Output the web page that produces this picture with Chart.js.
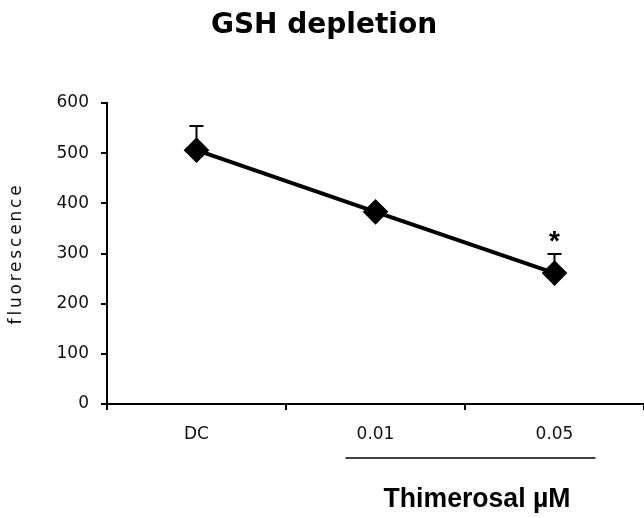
<!DOCTYPE html>
<html>
<head>
<meta charset="utf-8">
<title>GSH depletion</title>
<script src="https://cdn.jsdelivr.net/npm/chart.js@4.4.0/dist/chart.umd.min.js"></script>
<style>
    html, body { margin: 0; padding: 0; background: #fff; }
    #wrap { width: 644px; height: 518px; position: relative; }
</style>
</head>
<body>
<div id="wrap"><canvas id="chart"></canvas></div>
<script>
// ---- data ----
const categories = ['DC', '0.01', '0.05'];
const fluorescence = [506, 383, 261];
const errorUp = [48, 0, 38];
const significance = ['', '', '*'];
const yTicks = [0, 100, 200, 300, 400, 500, 600];

const SANS = '"Liberation Sans", Arial, sans-serif';
const WIDE = '"DejaVu Sans", Verdana, sans-serif';

// error bars (upper only) + significance star
const errorBarPlugin = {
    id: 'errorBars',
    afterDatasetsDraw(chart) {
        const ctx = chart.ctx;
        const y = chart.scales.y;
        const meta = chart.getDatasetMeta(0);
        ctx.save();
        ctx.strokeStyle = '#000';
        ctx.lineWidth = 2;
        meta.data.forEach((pt, i) => {
            const top = y.getPixelForValue(fluorescence[i] + errorUp[i]);
            if (errorUp[i] > 0) {
                ctx.beginPath();
                ctx.moveTo(pt.x, pt.y);
                ctx.lineTo(pt.x, top);
                ctx.moveTo(pt.x - 7, top);
                ctx.lineTo(pt.x + 7, top);
                ctx.stroke();
            }
            if (significance[i]) {
                ctx.fillStyle = '#000';
                ctx.font = 'bold 28px ' + SANS;
                ctx.textAlign = 'center';
                ctx.textBaseline = 'middle';
                ctx.fillText(significance[i], pt.x, top - 12);
            }
        });
        ctx.restore();
    }
};

// title, y axis caption, x axis caption with its bracket line
const labelsPlugin = {
    id: 'extraLabels',
    afterDraw(chart) {
        const ctx = chart.ctx;
        const x = chart.scales.x;
        const y = chart.scales.y;
        ctx.save();
        ctx.fillStyle = '#000';
        ctx.textAlign = 'center';
        ctx.textBaseline = 'middle';
        ctx.font = 'bold 28px ' + WIDE;
        ctx.fillText('GSH depletion', 324, 26);

        // y axis caption, spaced out like the original
        ctx.save();
        ctx.translate(17, (y.top + y.bottom) / 2);
        ctx.rotate(-Math.PI / 2);
        ctx.font = '17px ' + WIDE;
        ctx.letterSpacing = '2.8px';
        ctx.fillStyle = '#111';
        ctx.fillText('fluorescence', 0, 0);
        ctx.restore();

        // bracket under the thimerosal doses
        const x1 = x.getPixelForValue(1) - 30;
        const x2 = x.getPixelForValue(2) + 41;
        ctx.strokeStyle = '#000';
        ctx.lineWidth = 1.5;
        ctx.beginPath();
        ctx.moveTo(x1, 458);
        ctx.lineTo(x2, 458);
        ctx.stroke();

        ctx.save();
        ctx.translate(477, 499);
        ctx.scale(0.95, 1);
        ctx.font = 'bold 28px ' + SANS;
        ctx.fillText('Thimerosal µM', 0, 0);
        ctx.restore();
        ctx.restore();
    }
};

new Chart(document.getElementById('chart'), {
    type: 'line',
    data: {
        labels: categories,
        datasets: [{
            data: fluorescence,
            borderColor: '#000',
            borderWidth: 4,
            backgroundColor: '#000',
            pointStyle: 'rectRot',
            pointRadius: 10,
            pointBackgroundColor: '#000',
            pointBorderColor: '#000',
            tension: 0
        }]
    },
    options: {
        responsive: true,
        maintainAspectRatio: false,
        animation: false,
        layout: {
            autoPadding: false,
            padding: { top: 103, right: 0, bottom: 0, left: 0 }
        },
        plugins: {
            legend: { display: false },
            tooltip: { enabled: false },
            title: { display: false }
        },
        scales: {
            x: {
                type: 'category',
                offset: true,
                grid: {
                    offset: true,
                    drawOnChartArea: false,
                    tickLength: 6,
                    color: '#000',
                    lineWidth: 2
                },
                border: { color: '#000', width: 2 },
                ticks: {
                    color: '#111',
                    font: { family: WIDE, size: 17 },
                    padding: 14
                },
                afterFit(scale) {
                    scale.height = 114;
                    scale.paddingLeft = 0;
                    scale.paddingRight = 0;
                }
            },
            y: {
                min: 0,
                max: 600,
                afterBuildTicks(scale) {
                    scale.ticks = yTicks.map(v => ({ value: v }));
                },
                grid: {
                    drawOnChartArea: false,
                    tickLength: 6,
                    color: '#000',
                    lineWidth: 2
                },
                border: { color: '#000', width: 2 },
                ticks: {
                    color: '#111',
                    font: { family: WIDE, size: 17 },
                    padding: 12
                },
                afterFit(scale) { scale.width = 107; }
            }
        }
    },
    plugins: [errorBarPlugin, labelsPlugin]
});
</script>
</body>
</html>
